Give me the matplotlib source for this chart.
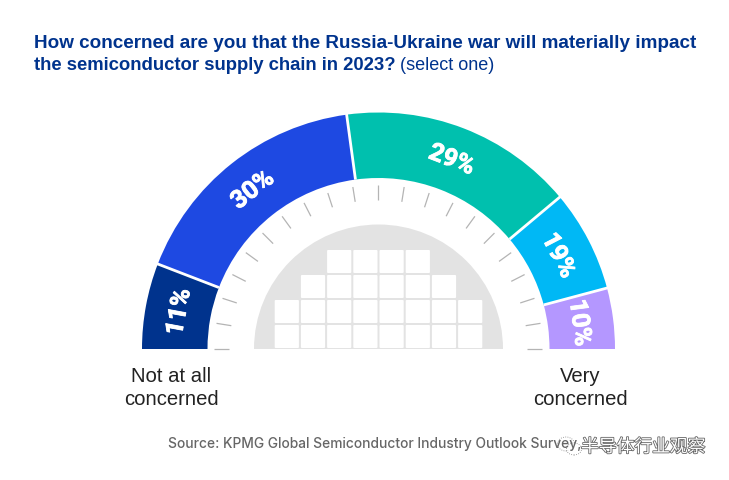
import numpy as np
import matplotlib
matplotlib.use('Agg')
import matplotlib.pyplot as plt
import matplotlib.patheffects as pe
from matplotlib.patches import Wedge, FancyBboxPatch, Ellipse

# labels as printed, and the share of the arc each band really takes in the picture
# (the reference is not drawn to scale, so these differ a bit from the printed numbers)
labels = ['11%', '30%', '29%', '19%', '10%']
arc_share = [11.7, 34.0, 32.1, 13.9, 8.3]
colors = ['#00338D', '#1E49E2', '#00C0AE', '#00B8F5', '#B497FF']

# rows of the little chip grid, bottom to top: cells per row
grid_rows = [8, 8, 6, 4]

CX, CY = 378.5, 131
R_OUT, R_IN = 236.5, 171

fig = plt.figure(figsize=(7.29, 4.8), dpi=100)
ax = fig.add_axes([0, 0, 1, 1])
ax.set_xlim(0, 729)
ax.set_ylim(0, 480)
ax.axis('off')

# grey dome with the chip cells on it
ax.add_patch(Wedge((CX, CY), 124.5, 0, 180, color='#E3E3E3', lw=0))
pitch_x, pitch_y = 26.2, 25
cell_w, cell_h = 24.2, 23
for row, n in enumerate(grid_rows):
    for col in range(n):
        x = CX - n * pitch_x / 2 + col * pitch_x + 1
        y = CY + 1 + row * pitch_y
        ax.add_patch(FancyBboxPatch((x + 0.5, y + 0.5), cell_w - 1, cell_h - 1,
                                    boxstyle='round,pad=0.5,rounding_size=1',
                                    fc='white', ec='none'))

# tick ring, one every 9 degrees
for a in np.arange(0, 181, 9):
    t = np.radians(a)
    ax.plot([CX + 149 * np.cos(t), CX + 164 * np.cos(t)],
            [CY + 149 * np.sin(t), CY + 164 * np.sin(t)],
            color='#B4B4B4', lw=0.9, solid_capstyle='butt')

# the bands, left to right
shares = np.array(arc_share)
ends = 180 - np.cumsum(shares) / shares.sum() * 180
starts = np.r_[180, ends[:-1]]
for a0, a1, c, lab in zip(starts, ends, colors, labels):
    ax.add_patch(Wedge((CX, CY), R_OUT, a1, a0, width=R_OUT - R_IN, fc=c, ec='none'))
    mid = np.radians((a0 + a1) / 2)
    ax.text(CX + 203 * np.cos(mid), CY + 203 * np.sin(mid), lab, color='white',
            family='Roboto', weight='bold', fontsize=18,
            rotation=(a0 + a1) / 2 - 90, rotation_mode='anchor',
            ha='center', va='center',
            path_effects=[pe.withStroke(linewidth=0.6, foreground='white')])
for a in ends[:-1]:
    t = np.radians(a)
    ax.plot([CX + R_IN * np.cos(t), CX + (R_OUT + 1) * np.cos(t)],
            [CY + R_IN * np.sin(t), CY + (R_OUT + 1) * np.sin(t)],
            color='white', lw=2, solid_capstyle='butt')

navy = '#00338D'
ax.text(34, 437, 'How concerned are you that the Russia-Ukraine war will materially impact',
        family='Liberation Sans', weight='bold', fontsize=13.6, color=navy, va='center')
t2 = ax.text(34, 414, 'the semiconductor supply chain in 2023?', family='Liberation Sans',
             weight='bold', fontsize=13.3, color=navy, va='center')
fig.canvas.draw()
bb = t2.get_window_extent()
ax.text(bb.x1 + 4, 414, '(select one)', family='Liberation Sans', fontsize=13, color=navy, va='center')

ax.text(171, 92, 'Not at all\nconcerned', family='Liberation Sans', fontsize=14.6, color='#222222',
        ha='center', va='center', linespacing=1.25)
ax.text(580, 92, 'Very\nconcerned', family='Liberation Sans', fontsize=14.6, color='#222222',
        ha='center', va='center', linespacing=1.25)

ax.text(168, 36, 'Source: KPMG Global Semiconductor Industry Outlook Survey,', family='Inter',
        weight='medium', fontsize=9.95, color='#666666', va='center')

# wechat watermark over the source line
for xy, w, h in [((566, 36), 17, 14), ((574, 31), 15, 12)]:
    ax.add_patch(Ellipse(xy, w, h, fc='white', ec='#777777', lw=0.6, ls=':', alpha=0.9))
ax.text(581, 33, '半导体行业观察', family=['Noto Sans CJK SC', 'DejaVu Sans'], fontsize=12.8,
        color='white', va='center',
        path_effects=[pe.withStroke(linewidth=1.2, foreground='#666666')])

fig.savefig('out.png', dpi=100)
